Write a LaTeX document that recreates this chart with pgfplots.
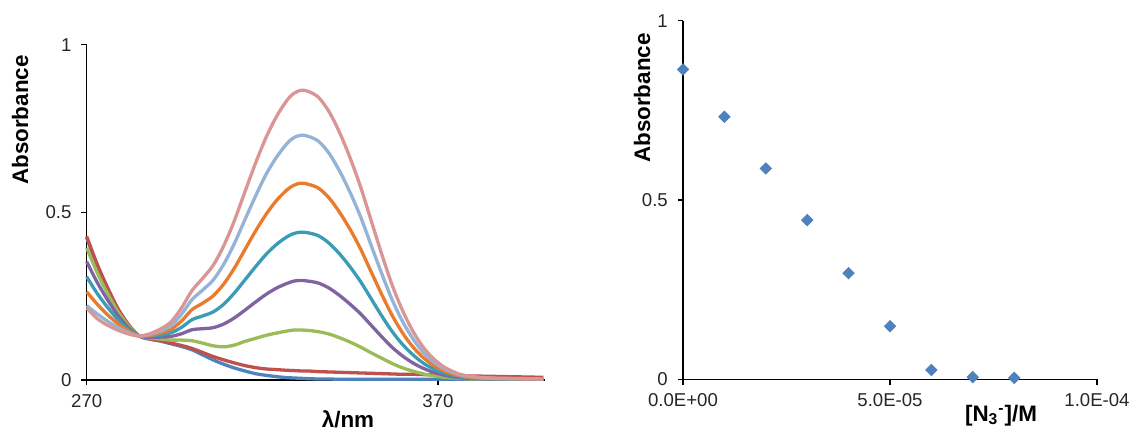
\documentclass[border=0pt]{standalone}
\usepackage{fontspec}
\setmainfont{Liberation Sans}
\usepackage{pgfplots}
\pgfplotsset{compat=1.18}
\usepackage{pgfplotstable}

\definecolor{cBL}{HTML}{4F81BD}
\definecolor{cRE}{HTML}{C0504D}
\definecolor{cGR}{HTML}{9BBB59}
\definecolor{cPU}{HTML}{8064A2}
\definecolor{cTE}{HTML}{3A9DB5}
\definecolor{cOR}{HTML}{EA7B2C}
\definecolor{cLB}{HTML}{95B3D7}
\definecolor{cPK}{HTML}{D99694}

\pgfplotstableread{
lam BL RE GR PU TE OR LB PK
270 0.424 0.428 0.394 0.353 0.308 0.263 0.222 0.215
273 0.342 0.345 0.320 0.291 0.258 0.226 0.197 0.183
276 0.272 0.274 0.257 0.238 0.216 0.194 0.175 0.163
279 0.210 0.211 0.202 0.191 0.179 0.167 0.156 0.148
282 0.163 0.164 0.160 0.155 0.150 0.146 0.141 0.137
285 0.131 0.131 0.131 0.131 0.131 0.131 0.131 0.131
288 0.122 0.122 0.125 0.127 0.130 0.133 0.136 0.138
291 0.116 0.117 0.122 0.128 0.134 0.140 0.146 0.152
294 0.108 0.110 0.119 0.130 0.141 0.151 0.162 0.173
297 0.100 0.103 0.119 0.138 0.157 0.176 0.196 0.215
300 0.090 0.094 0.117 0.150 0.180 0.210 0.240 0.267
303 0.075 0.082 0.110 0.153 0.191 0.229 0.268 0.303
306 0.060 0.070 0.102 0.156 0.203 0.251 0.298 0.342
309 0.047 0.060 0.099 0.167 0.226 0.286 0.345 0.400
312 0.036 0.051 0.104 0.185 0.259 0.333 0.406 0.474
315 0.027 0.043 0.115 0.208 0.298 0.388 0.477 0.560
318 0.019 0.037 0.124 0.232 0.337 0.443 0.547 0.645
321 0.014 0.033 0.133 0.255 0.374 0.493 0.612 0.722
324 0.010 0.031 0.140 0.274 0.404 0.535 0.664 0.785
327 0.007 0.029 0.146 0.288 0.427 0.567 0.705 0.834
329 0.006 0.028 0.149 0.295 0.437 0.581 0.723 0.855
331 0.005 0.027 0.149 0.297 0.441 0.587 0.730 0.864
333 0.004 0.027 0.148 0.295 0.439 0.584 0.727 0.861
336 0.003 0.025 0.144 0.289 0.430 0.572 0.712 0.843
339 0.003 0.024 0.137 0.274 0.408 0.543 0.676 0.800
342 0.002 0.023 0.126 0.252 0.376 0.500 0.623 0.738
345 0.002 0.022 0.113 0.226 0.337 0.449 0.559 0.662
348 0.002 0.021 0.098 0.197 0.293 0.390 0.486 0.575
351 0.002 0.020 0.081 0.163 0.242 0.322 0.401 0.475
354 0.002 0.019 0.065 0.129 0.191 0.255 0.317 0.375
357 0.002 0.018 0.049 0.097 0.144 0.192 0.238 0.282
360 0.002 0.017 0.036 0.071 0.105 0.139 0.173 0.205
363 0.002 0.017 0.026 0.050 0.074 0.097 0.121 0.143
366 0.002 0.016 0.018 0.034 0.049 0.065 0.080 0.095
369 0.002 0.015 0.012 0.022 0.032 0.042 0.052 0.061
372 0.002 0.014 0.008 0.014 0.020 0.026 0.032 0.037
376 0.002 0.013 0.005 0.007 0.010 0.013 0.016 0.018
380 0.002 0.012 0.003 0.005 0.006 0.007 0.009 0.010
385 0.002 0.011 0.003 0.003 0.004 0.005 0.005 0.006
390 0.002 0.010 0.003 0.003 0.003 0.004 0.004 0.005
395 0.002 0.009 0.003 0.003 0.003 0.003 0.004 0.004
400 0.002 0.008 0.003 0.003 0.003 0.003 0.003 0.003
}\spectra

\pgfplotstableread{
c A
0      0.864
1e-5   0.732
2e-5   0.588
3e-5   0.444
4e-5   0.296
5e-5   0.148
6e-5   0.026
7e-5   0.006
8e-5   0.004
}\titration

\pgfplotsset{
  excel/.style={
    scale only axis,
    anchor=south west,
    axis lines=left,
    axis line style={-, line width=0.7bp, black},
    tick align=outside,
    major tick length=2.6bp,
    tick style={black, line width=0.7bp},
    ticklabel style={font=\fontsize{9.3bp}{11bp}\selectfont, text=black!85},
    yticklabel style={xshift=-1.5bp},
    xticklabel style={yshift=-1bp},
    clip=false,
  },
  spec/.style={line width=1.65bp, smooth, no markers},
}

\begin{document}
\begin{tikzpicture}
\path[use as bounding box] (0,0) rectangle (565.5bp,215bp);

\begin{axis}[excel,
  at={(43.35bp,25bp)},
  width=229.2bp, height=167.65bp,
  xmin=270, xmax=400.5, ymin=0, ymax=1,
  xtick={270,370}, xticklabels={270,370},
  ytick={0,0.5,1}, yticklabels={0,0.5,1},
]
\addplot[spec, cBL] table[x=lam, y=BL] {\spectra};
\addplot[spec, cRE] table[x=lam, y=RE] {\spectra};
\addplot[spec, cGR] table[x=lam, y=GR] {\spectra};
\addplot[spec, cPU] table[x=lam, y=PU] {\spectra};
\addplot[spec, cTE] table[x=lam, y=TE] {\spectra};
\addplot[spec, cOR] table[x=lam, y=OR] {\spectra};
\addplot[spec, cLB] table[x=lam, y=LB] {\spectra};
\addplot[spec, cPK] table[x=lam, y=PK] {\spectra};
\end{axis}

\begin{axis}[excel,
  at={(341.5bp,25.35bp)},
  width=207bp, height=179.3bp,
  xmin=0, xmax=1e-4, ymin=0, ymax=1,
  scaled x ticks=false,
  xtick={0,5e-5,1e-4}, xticklabels={0.0E+00,5.0E-05,1.0E-04},
  ytick={0,0.5,1}, yticklabels={0,0.5,1},
]
\addplot[only marks, mark=square*, mark size=2bp,
  mark options={rotate=45, fill=cBL, draw=cBL}] table[x=c, y=A] {\titration};
\end{axis}

\node[rotate=90, font=\fontsize{11.2bp}{13bp}\selectfont\bfseries] at (10bp,155bp) {Absorbance};
\node[anchor=base, font=\fontsize{11.2bp}{13bp}\selectfont\bfseries] at (174bp,1.3bp) {λ/nm};
\node[rotate=90, font=\fontsize{11.2bp}{13bp}\selectfont\bfseries] at (321bp,166bp) {Absorbance};
\node[anchor=base, font=\fontsize{11.2bp}{13bp}\selectfont\bfseries] at (500.5bp,4.3bp) {[N\textsubscript{3}\textsuperscript{-}]/M};
\end{tikzpicture}
\end{document}
